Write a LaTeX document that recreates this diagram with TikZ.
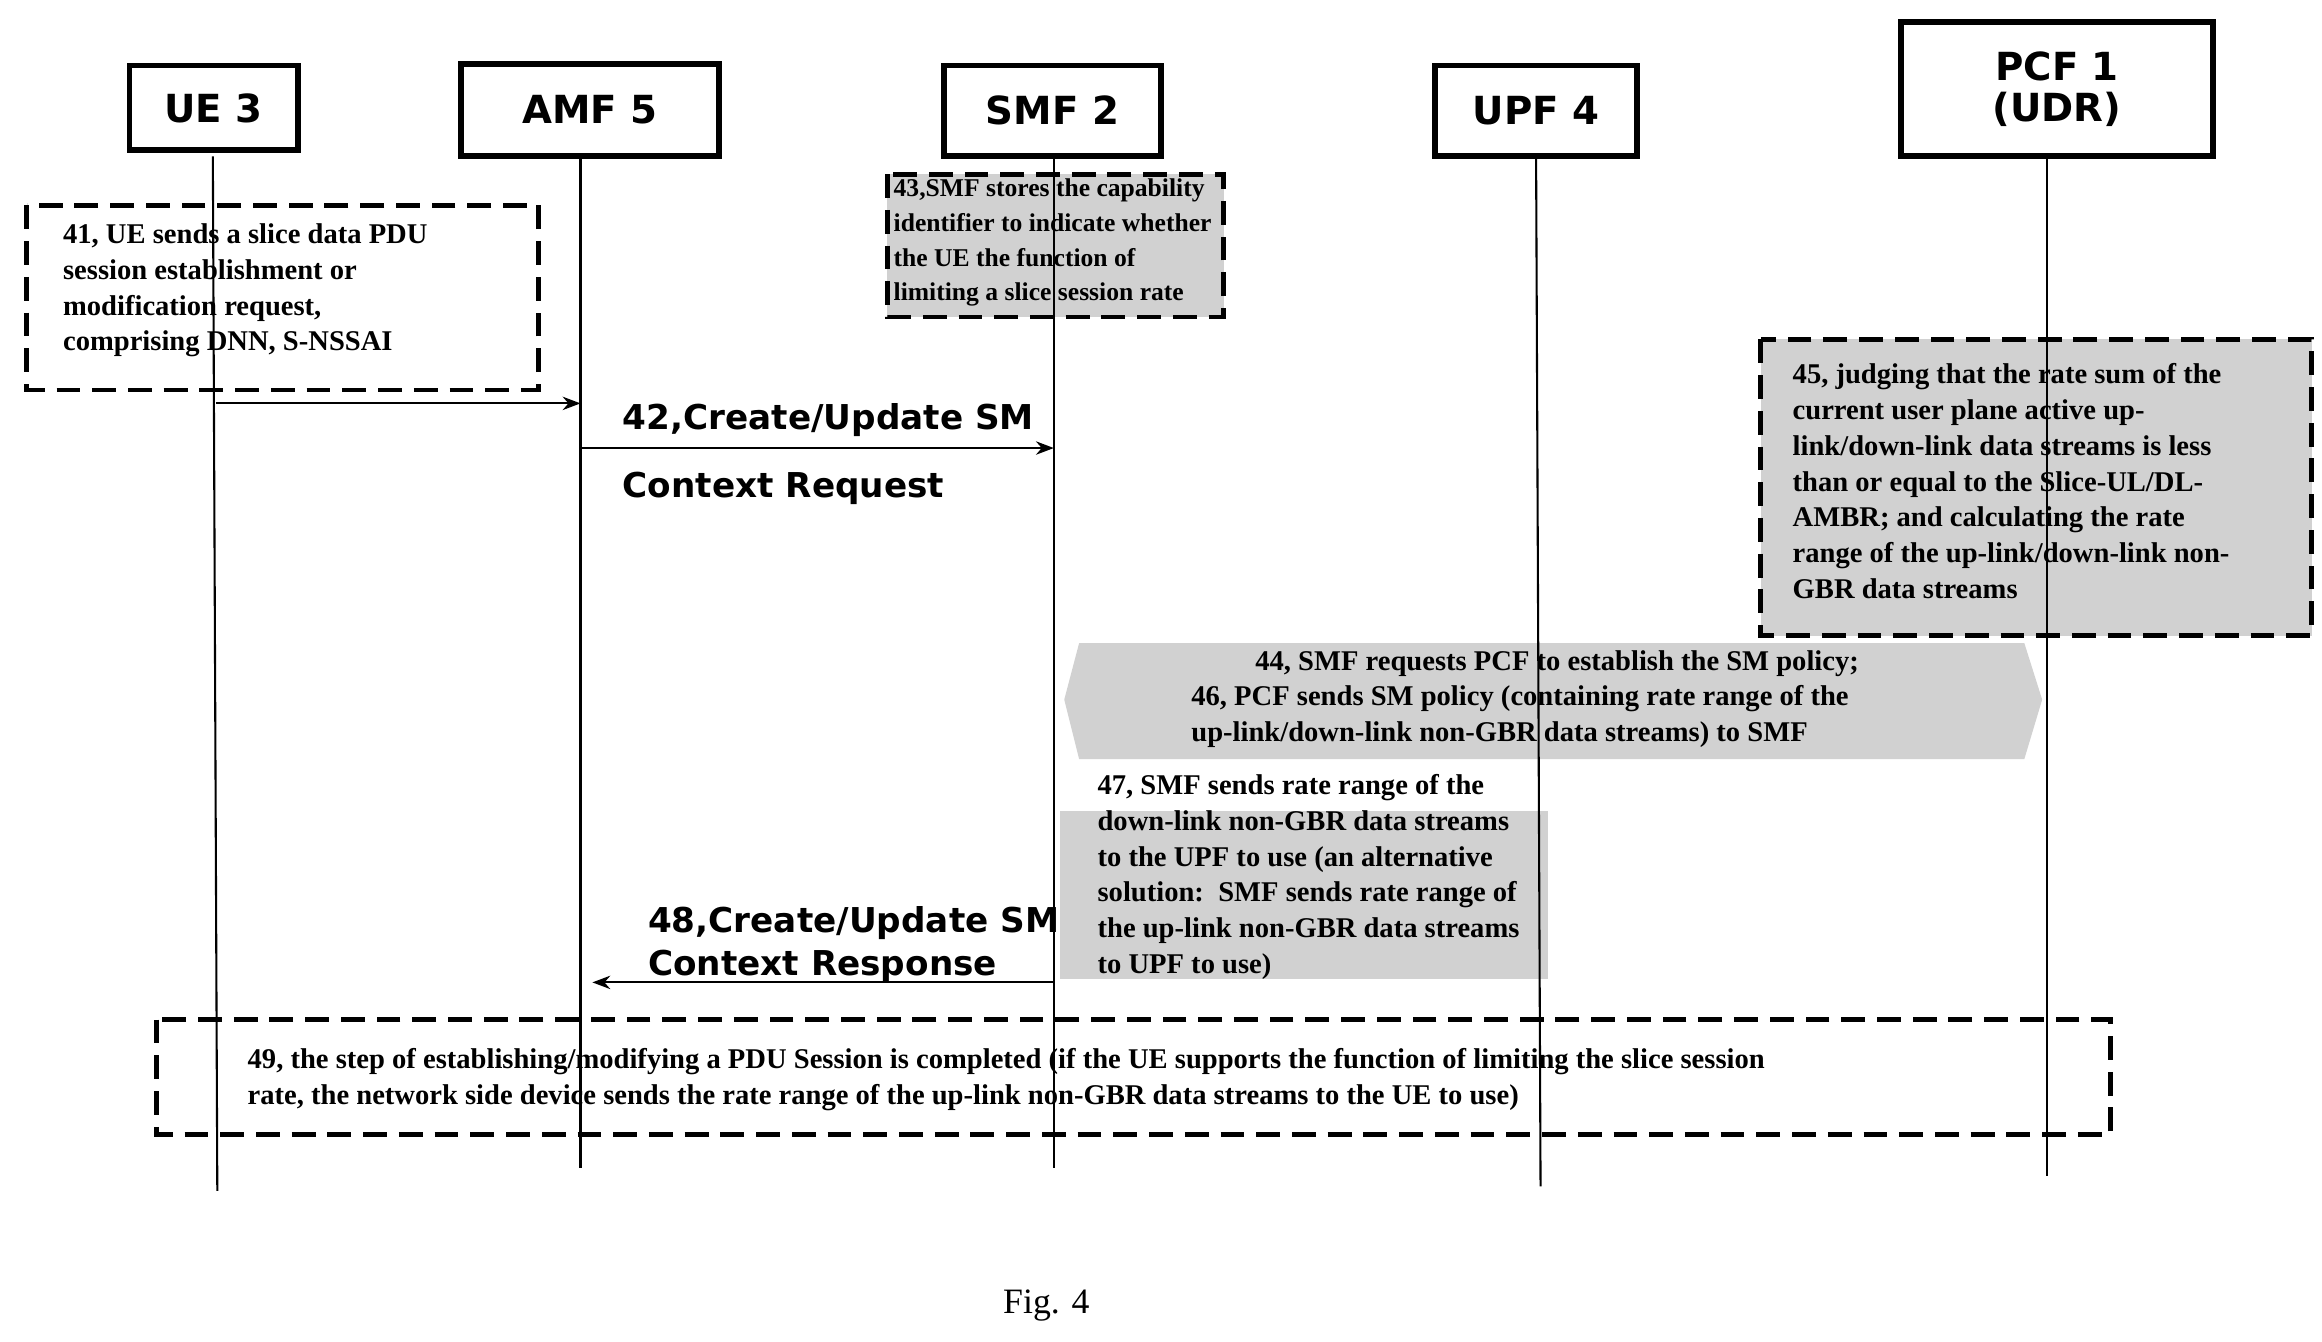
\documentclass[tikz,border=0pt]{standalone}
\usepackage{fontspec}
\setmainfont{Liberation Serif}
\setsansfont{DejaVu Sans}
\usetikzlibrary{arrows.meta}
\begin{document}
\begin{tikzpicture}[x=0.5pt,y=-0.5pt,
 ent/.style={draw,line width=2pt,font=\sffamily\bfseries\fontsize{13}{14}\selectfont,inner sep=0},
 life/.style={line width=0.7pt},
 dbox/.style={draw,line width=1.6pt,dash pattern=on 8pt off 4pt},
 txt/.style={font=\bfseries\fontsize{9.6}{12}\selectfont,align=left,anchor=north west,inner sep=0},
 lab/.style={font=\sffamily\bfseries\fontsize{11.5}{14}\selectfont,anchor=west,inner sep=0},
 msg/.style={-{Stealth[length=6pt]},line width=0.7pt},
 shade/.style={fill=black!18}]
\useasboundingbox (0,0) rectangle (1560,901);
\node[ent,minimum width=113*0.5pt,minimum height=57*0.5pt] (ue) at (143.5,72.5) {UE 3};
\node[ent,minimum width=173*0.5pt,minimum height=62*0.5pt] (amf) at (396.5,74) {AMF 5};
\node[ent,minimum width=146*0.5pt,minimum height=61*0.5pt] (smf) at (707,74.5) {SMF 2};
\node[ent,minimum width=136*0.5pt,minimum height=61*0.5pt] (upf) at (1032,74.5) {UPF 4};
\node[ent,minimum width=210*0.5pt,minimum height=90*0.5pt,align=center] (pcf) at (1382,60) {PCF 1\\(UDR)};
\coordinate (ueb) at (146,800); \coordinate (amfb) at (390,785);
\coordinate (smfb) at (708,785); \coordinate (upfb) at (1035,797);
\coordinate (pcfb) at (1375,790);
% shaded regions
\draw[dbox,shade] (596,117) rectangle (822,213);
\draw[dbox,shade] (1183,228) rectangle (1553,427);
\fill[shade] (725,432) -- (1360,432) -- (1372,470) -- (1360,510) -- (725,510) -- (715,470) -- cycle;
\fill[shade] (712,545) rectangle (1040,658);
\draw[life] (143,105) -- (ueb);
\draw[life] (390,105) -- (amfb);
\draw[life] (708,105) -- (smfb);
\draw[life] (1032,105) -- (upfb);
\draw[life] (1375,105) -- (pcfb);
\draw[dbox] (18,138) rectangle (362,262);
\node[txt] (t41) at (42,150) {41, UE sends a slice data PDU\\session establishment or\\modification request,\\comprising DNN, S-NSSAI};
\coordinate (a41s) at (145,271); \coordinate (a41e) at (390,271);
\draw[msg] (a41s) -- (a41e);
\coordinate (a42s) at (390,301); \coordinate (a42e) at (708,301);
\draw[msg] (a42s) -- (a42e);
\node[lab] (l42) at (418,282) {42,Create/Update SM};
\node[lab] (l42b) at (418,328) {Context Request};
\node[txt,font=\bfseries\fontsize{8.6}{11.6}\selectfont] (t43) at (600,120) {43,SMF stores the capability\\identifier to indicate whether\\the UE the function of\\limiting a slice session rate};
\node[txt] (t45) at (1204,244) {45, judging that the rate sum of the\\current user plane active up-\\link/down-link data streams is less\\than or equal to the Slice-UL/DL-\\AMBR; and calculating the rate\\range of the up-link/down-link non-\\GBR data streams};
\node[txt] (t44) at (843,437) {44, SMF requests PCF to establish the SM policy;};
\node[txt] (t46) at (800,460) {46, PCF sends SM policy (containing rate range of the\\up-link/down-link non-GBR data streams) to SMF};
\node[txt] (t47) at (737,520) {47, SMF sends rate range of the\\down-link non-GBR data streams\\to the UPF to use (an alternative\\solution:\ \ SMF sends rate range of\\the up-link non-GBR data streams\\to UPF to use)};
\coordinate (a48s) at (708,660); \coordinate (a48e) at (398,660);
\draw[msg] (a48s) -- (a48e);
\node[lab] (l48) at (435,620) {48,Create/Update SM};
\node[lab] (l48b) at (435,649) {Context Response};
\draw[dbox] (105,685) rectangle (1418,762);
\node[txt] (t49) at (166,704) {49, the step of establishing/modifying a PDU Session is completed (if the UE supports the function of limiting the slice session\\rate, the network side device sends the rate range of the up-link non-GBR data streams to the UE to use)};
\node[font=\fontsize{12}{14}\selectfont] (fig) at (703,877) {Fig. 4};
\end{tikzpicture}
\end{document}
